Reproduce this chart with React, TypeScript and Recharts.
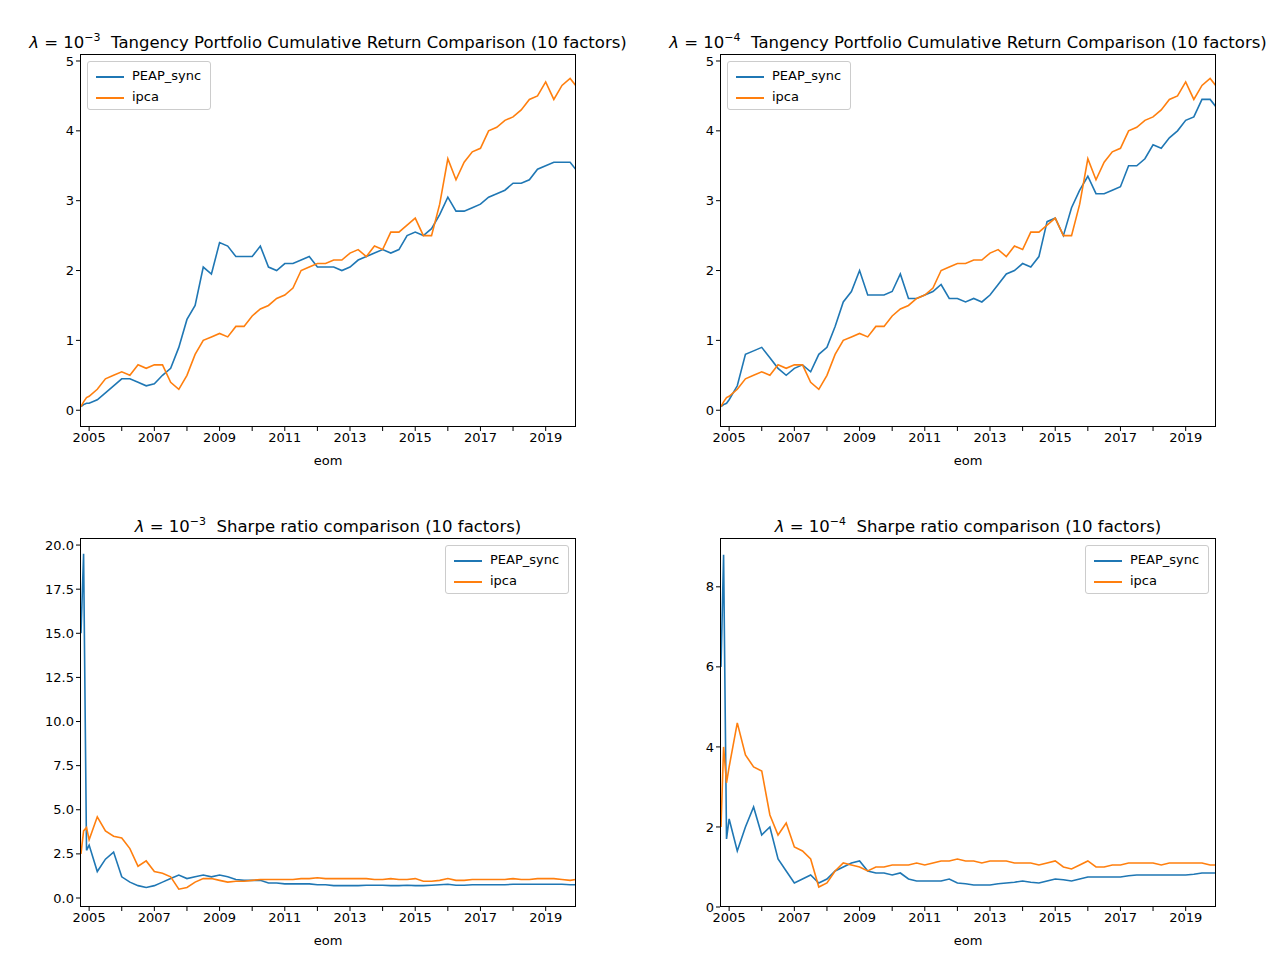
import React from "react";
import { LineChart, Line, XAxis, YAxis } from "recharts";

const dates = [2004.75, 2004.83, 2004.92,
  2005.0, 2005.25, 2005.5, 2005.75, 2006.0, 2006.25, 2006.5, 2006.75, 2007.0, 2007.25, 2007.5, 2007.75,
  2008.0, 2008.25, 2008.5, 2008.75, 2009.0, 2009.25, 2009.5, 2009.75, 2010.0, 2010.25, 2010.5, 2010.75,
  2011.0, 2011.25, 2011.5, 2011.75, 2012.0, 2012.25, 2012.5, 2012.75, 2013.0, 2013.25, 2013.5, 2013.75,
  2014.0, 2014.25, 2014.5, 2014.75, 2015.0, 2015.25, 2015.5, 2015.75, 2016.0, 2016.25, 2016.5, 2016.75,
  2017.0, 2017.25, 2017.5, 2017.75, 2018.0, 2018.25, 2018.5, 2018.75, 2019.0, 2019.25, 2019.5, 2019.75, 2019.92];

const cumPeap3 = [0.05, 0.08, 0.1,
  0.1, 0.15, 0.25, 0.35, 0.45, 0.45, 0.4, 0.35, 0.38, 0.5, 0.6, 0.9,
  1.3, 1.5, 2.05, 1.95, 2.4, 2.35, 2.2, 2.2, 2.2, 2.35, 2.05, 2.0,
  2.1, 2.1, 2.15, 2.2, 2.05, 2.05, 2.05, 2.0, 2.05, 2.15, 2.2, 2.25,
  2.3, 2.25, 2.3, 2.5, 2.55, 2.5, 2.6, 2.8, 3.05, 2.85, 2.85, 2.9,
  2.95, 3.05, 3.1, 3.15, 3.25, 3.25, 3.3, 3.45, 3.5, 3.55, 3.55, 3.55, 3.45];

const cumIpca = [0.05, 0.12, 0.18,
  0.2, 0.3, 0.45, 0.5, 0.55, 0.5, 0.65, 0.6, 0.65, 0.65, 0.4, 0.3,
  0.5, 0.8, 1.0, 1.05, 1.1, 1.05, 1.2, 1.2, 1.35, 1.45, 1.5, 1.6,
  1.65, 1.75, 2.0, 2.05, 2.1, 2.1, 2.15, 2.15, 2.25, 2.3, 2.2, 2.35,
  2.3, 2.55, 2.55, 2.65, 2.75, 2.5, 2.5, 2.95, 3.6, 3.3, 3.55, 3.7,
  3.75, 4.0, 4.05, 4.15, 4.2, 4.3, 4.45, 4.5, 4.7, 4.45, 4.65, 4.75, 4.65];

const cumPeap4 = [0.05, 0.08, 0.1,
  0.15, 0.35, 0.8, 0.85, 0.9, 0.75, 0.6, 0.5, 0.6, 0.65, 0.55, 0.8,
  0.9, 1.2, 1.55, 1.7, 2.0, 1.65, 1.65, 1.65, 1.7, 1.95, 1.6, 1.6,
  1.65, 1.7, 1.8, 1.6, 1.6, 1.55, 1.6, 1.55, 1.65, 1.8, 1.95, 2.0,
  2.1, 2.05, 2.2, 2.7, 2.75, 2.5, 2.9, 3.15, 3.35, 3.1, 3.1, 3.15,
  3.2, 3.5, 3.5, 3.6, 3.8, 3.75, 3.9, 4.0, 4.15, 4.2, 4.45, 4.45, 4.35];

const srPeap3 = [15, 19.5, 2.7,
  3.0, 1.5, 2.2, 2.6, 1.2, 0.9, 0.7, 0.6, 0.7, 0.9, 1.1, 1.3,
  1.1, 1.2, 1.3, 1.2, 1.3, 1.2, 1.05, 1.0, 1.0, 1.0, 0.85, 0.85,
  0.8, 0.8, 0.8, 0.8, 0.75, 0.75, 0.7, 0.7, 0.7, 0.7, 0.72, 0.72,
  0.72, 0.7, 0.7, 0.72, 0.7, 0.7, 0.72, 0.75, 0.78, 0.72, 0.72, 0.75,
  0.75, 0.75, 0.75, 0.75, 0.78, 0.78, 0.78, 0.78, 0.78, 0.78, 0.78, 0.75, 0.75];

const srIpca3 = [2.5, 3.8, 4.0,
  3.3, 4.6, 3.8, 3.5, 3.4, 2.8, 1.8, 2.1, 1.5, 1.4, 1.2, 0.5,
  0.6, 0.9, 1.1, 1.1, 1.0, 0.9, 0.95, 0.95, 1.0, 1.05, 1.05, 1.05,
  1.05, 1.05, 1.1, 1.1, 1.15, 1.1, 1.1, 1.1, 1.1, 1.1, 1.1, 1.05,
  1.05, 1.1, 1.05, 1.05, 1.1, 0.95, 0.95, 1.0, 1.1, 1.0, 1.0, 1.05,
  1.05, 1.05, 1.05, 1.05, 1.1, 1.05, 1.05, 1.1, 1.1, 1.1, 1.05, 1.0, 1.05];

const srPeap4 = [6.0, 8.8, 1.7,
  2.2, 1.4, 2.0, 2.5, 1.8, 2.0, 1.2, 0.9, 0.6, 0.7, 0.8, 0.6,
  0.7, 0.9, 1.0, 1.1, 1.15, 0.9, 0.85, 0.85, 0.8, 0.85, 0.7, 0.65,
  0.65, 0.65, 0.65, 0.7, 0.6, 0.58, 0.55, 0.55, 0.55, 0.58, 0.6, 0.62,
  0.65, 0.62, 0.6, 0.65, 0.7, 0.68, 0.65, 0.7, 0.75, 0.75, 0.75, 0.75,
  0.75, 0.78, 0.8, 0.8, 0.8, 0.8, 0.8, 0.8, 0.8, 0.82, 0.85, 0.85, 0.85];

const srIpca4 = [2.0, 4.0, 3.1,
  3.5, 4.6, 3.8, 3.5, 3.4, 2.3, 1.8, 2.1, 1.5, 1.4, 1.2, 0.5,
  0.6, 0.9, 1.1, 1.05, 1.0, 0.9, 1.0, 1.0, 1.05, 1.05, 1.05, 1.1,
  1.05, 1.1, 1.15, 1.15, 1.2, 1.15, 1.15, 1.1, 1.15, 1.15, 1.15, 1.1,
  1.1, 1.1, 1.05, 1.1, 1.15, 1.0, 0.95, 1.05, 1.15, 1.0, 1.0, 1.05,
  1.05, 1.1, 1.1, 1.1, 1.1, 1.05, 1.1, 1.1, 1.1, 1.1, 1.1, 1.05, 1.05];

const xTicks = [2005, 2006, 2007, 2008, 2009, 2010, 2011, 2012, 2013, 2014, 2015, 2016, 2017, 2018, 2019];
const cumTicks = [0, 1, 2, 3, 4, 5];
const sr3Ticks = [0, 2.5, 5, 7.5, 10, 12.5, 15, 17.5, 20];
const sr4Ticks = [0, 2, 4, 6, 8];

const FONT = "DejaVu Sans, sans-serif";
const YW = 60, XH = 50;

function Panel(props: any) {
  const { left, top, w, h, a, b, yDomain, yTicks, yFmt, title, exp, legendRight } = props;
  const data = dates.map((d, i) => ({ d, a: a[i], b: b[i] }));
  return (
    <>
      <div style={{ position: "absolute", left: left - 80, top: top - 23, width: w + 160, textAlign: "center", fontSize: 16.5, fontFamily: FONT, whiteSpace: "nowrap" }}>
        <i>λ</i> = 10<sup style={{ fontSize: 11 }}>{exp}</sup>&nbsp; {title}
      </div>
      <div style={{ position: "absolute", left: left - YW, top }}>
        <LineChart width={w + YW} height={h + XH} data={data} margin={{ top: 0, right: 0, bottom: 0, left: 0 }}>
          <XAxis dataKey="d" type="number" domain={[2004.72, 2019.93]} ticks={xTicks} interval={0}
            tickFormatter={(v: number) => (v % 2 === 1 ? String(v) : "")} axisLine={false}
            tick={{ fill: "#000", fontSize: 13, fontFamily: FONT }} tickSize={4} stroke="#000" height={XH} />
          <YAxis type="number" domain={yDomain} ticks={yTicks} interval={0} tickFormatter={yFmt} axisLine={false}
            tick={{ fill: "#000", fontSize: 13, fontFamily: FONT }} tickSize={4} stroke="#000" width={YW} allowDataOverflow />
          <Line dataKey="a" stroke="#1f77b4" strokeWidth={1.6} dot={false} isAnimationActive={false} />
          <Line dataKey="b" stroke="#ff7f0e" strokeWidth={1.6} dot={false} isAnimationActive={false} />
        </LineChart>
      </div>
      <div style={{ position: "absolute", left, top, width: w, height: h, border: "1px solid #000", boxSizing: "border-box", pointerEvents: "none" }} />
      <div style={{ position: "absolute", left: left + w / 2 - 20, top: top + h + 26, width: 40, textAlign: "center", fontSize: 13, fontFamily: FONT }}>eom</div>
      <div style={{ position: "absolute", left: legendRight ? left + w - 131 : left + 7, top: top + 7, width: 124, height: 49, border: "1px solid #ccc", borderRadius: 3, background: "rgba(255,255,255,0.8)", fontFamily: FONT, fontSize: 13, boxSizing: "border-box" }}>
        <div style={{ position: "absolute", left: 8, top: 6, width: 28, height: 2, background: "#1f77b4", marginTop: 8 }} />
        <div style={{ position: "absolute", left: 44, top: 6 }}>PEAP_sync</div>
        <div style={{ position: "absolute", left: 8, top: 27, width: 28, height: 2, background: "#ff7f0e", marginTop: 8 }} />
        <div style={{ position: "absolute", left: 44, top: 27 }}>ipca</div>
      </div>
    </>
  );
}

export default function App() {
  const cumDomain = [-0.24, 5.1];
  return (
    <div style={{ position: "absolute", left: 0, top: 0, width: 1280, height: 960, background: "#fff" }}>
      <Panel left={80} top={54} w={496} h={373} a={cumPeap3} b={cumIpca} yDomain={cumDomain} yTicks={cumTicks}
        yFmt={(v: number) => String(v)} exp="−3" title="Tangency Portfolio Cumulative Return Comparison (10 factors)" />
      <Panel left={720} top={54} w={496} h={373} a={cumPeap4} b={cumIpca} yDomain={cumDomain} yTicks={cumTicks}
        yFmt={(v: number) => String(v)} exp="−4" title="Tangency Portfolio Cumulative Return Comparison (10 factors)" />
      <Panel left={80} top={538} w={496} h={369} a={srPeap3} b={srIpca3} yDomain={[-0.51, 20.4]} yTicks={sr3Ticks}
        yFmt={(v: number) => v.toFixed(1)} exp="−3" title="Sharpe ratio comparison (10 factors)" legendRight />
      <Panel left={720} top={538} w={496} h={369} a={srPeap4} b={srIpca4} yDomain={[0, 9.22]} yTicks={sr4Ticks}
        yFmt={(v: number) => String(v)} exp="−4" title="Sharpe ratio comparison (10 factors)" legendRight />
    </div>
  );
}
